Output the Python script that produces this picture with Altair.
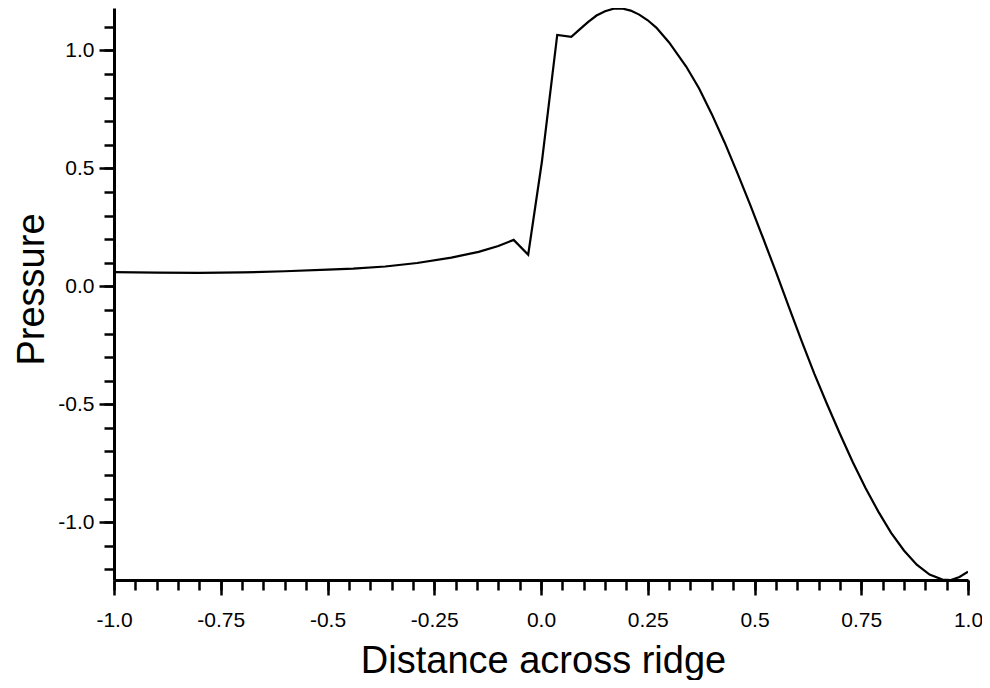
import json
import altair as alt
import pandas as pd

# Curve
distance = [-1.0, -0.9, -0.8, -0.7, -0.6, -0.5, -0.44, -0.365, -0.29, -0.21,
            -0.146, -0.1, -0.064, -0.030, 0.002, 0.038, 0.071, 0.09, 0.11, 0.13,
            0.15, 0.17, 0.19, 0.21, 0.23, 0.25, 0.27, 0.30, 0.34, 0.37,
            0.40, 0.43, 0.46, 0.49, 0.52, 0.55, 0.58, 0.61, 0.64, 0.67,
            0.70, 0.73, 0.76, 0.79, 0.82, 0.85, 0.88, 0.91, 0.94, 0.96,
            0.98, 1.0]
pressure = [0.060, 0.058, 0.057, 0.059, 0.064, 0.071, 0.075, 0.084, 0.099, 0.122,
            0.146, 0.171, 0.197, 0.134, 0.527, 1.066, 1.058, 1.088, 1.120, 1.148,
            1.166, 1.177, 1.178, 1.169, 1.152, 1.128, 1.097, 1.034, 0.932, 0.840,
            0.730, 0.610, 0.480, 0.345, 0.205, 0.062, -0.085, -0.230, -0.370, -0.500,
            -0.625, -0.745, -0.855, -0.955, -1.045, -1.120, -1.180, -1.222, -1.243, -1.245,
            -1.232, -1.210]

x_major_values = [-1.0, -0.75, -0.5, -0.25, 0.0, 0.25, 0.5, 0.75, 1.0]
x_major_labels = ["-1.0", "-0.75", "-0.5", "-0.25", "0.0", "0.25", "0.5", "0.75", "1.0"]
y_major_values = [-1.0, -0.5, 0.0, 0.5, 1.0]
y_major_labels = ["-1.0", "-0.5", "0.0", "0.5", "1.0"]
x_minor_values = [round(-1.0 + 0.05 * i, 2) for i in range(41)]
y_minor_values = [round(-1.2 + 0.1 * i, 1) for i in range(24)]

x_title = "Distance across ridge"
y_title = "Pressure"

df = pd.DataFrame({"distance": distance, "pressure": pressure})

FONT = "Liberation Sans"


def label_expr(values, labels):
    return f"{json.dumps(labels)}[indexof({json.dumps(values)}, datum.value)]"


xscale = alt.Scale(domain=[-1.0, 1.0], nice=False, zero=False)
yscale = alt.Scale(domain=[-1.245, 1.18], nice=False, zero=False)

minor = alt.Chart(df).mark_line(color="black", strokeWidth=2.2, opacity=0, clip=True).encode(
    x=alt.X("distance:Q", scale=xscale,
            axis=alt.Axis(orient="bottom", values=x_minor_values, labels=False, domain=False,
                          grid=False, tickSize=10, tickWidth=2.5, tickColor="black", title=None)),
    y=alt.Y("pressure:Q", scale=yscale,
            axis=alt.Axis(orient="left", values=y_minor_values, labels=False, domain=False,
                          grid=False, tickSize=10, tickWidth=2.5, tickColor="black", title=None)),
)

major = alt.Chart(df).mark_line(color="black", strokeWidth=2.2, clip=True).encode(
    x=alt.X("distance:Q", scale=xscale,
            axis=alt.Axis(orient="bottom", values=x_major_values,
                          labelExpr=label_expr(x_major_values, x_major_labels),
                          labelFont=FONT, labelFontSize=21, labelColor="black",
                          labelPadding=14, labelFlush=False, labelOverlap=False,
                          tickSize=15, tickWidth=2.5, tickColor="black",
                          domain=True, domainColor="black", domainWidth=3, grid=False,
                          title=x_title, titleFont=FONT, titleFontSize=38,
                          titleFontWeight="normal", titleColor="black",
                          titleX=429, titleY=92, titleAlign="center",
                          titleBaseline="alphabetic")),
    y=alt.Y("pressure:Q", scale=yscale,
            axis=alt.Axis(orient="left", values=y_major_values,
                          labelExpr=label_expr(y_major_values, y_major_labels),
                          labelFont=FONT, labelFontSize=21, labelColor="black",
                          labelPadding=5, labelFlush=False, labelOverlap=False,
                          tickSize=15, tickWidth=2.5, tickColor="black",
                          domain=True, domainColor="black", domainWidth=3, grid=False,
                          title=y_title, titleFont=FONT, titleFontSize=38,
                          titleFontWeight="normal", titleColor="black",
                          titleAngle=270, titleX=-71, titleY=281, titleAlign="center",
                          titleBaseline="alphabetic")),
)

chart = (
    alt.layer(minor, major)
    .resolve_axis(x="independent", y="independent")
    .properties(
        width=854,
        height=572,
        autosize=alt.AutoSizeParams(type="none"),
        padding={"left": 106, "top": 0, "right": 14, "bottom": 100},
        background="white",
    )
    .configure_view(strokeWidth=0)
)

chart.save("out.html", embed_options={"renderer": "svg", "actions": False})
